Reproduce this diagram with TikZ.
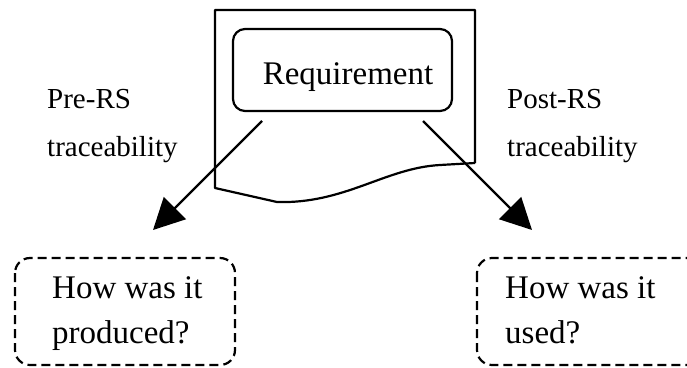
\documentclass[tikz,border=0pt]{standalone}
\usepackage{fontspec}
\setmainfont{Liberation Serif}
\usetikzlibrary{arrows.meta}
\begin{document}
\begin{tikzpicture}[x=1pt,y=-1pt,
  line/.style={line width=2.2pt, line join=round},
  reqbox/.style={draw, line width=2.2pt, rounded corners=12pt, minimum width=219pt, minimum height=82pt, inner sep=0pt},
  askbox/.style={draw, line width=2.2pt, dash pattern=on 9pt off 5pt, rounded corners=15pt},
  asktext/.style={align=left, anchor=north west, inner sep=0pt, font=\fontsize{33}{45}\selectfont},
  lbl/.style={align=left, anchor=north west, inner sep=0pt, font=\fontsize{29}{48}\selectfont},
  flow/.style={line, -{Triangle[length=31pt, width=31pt]}}]
\useasboundingbox (0,0) rectangle (687,367);
\clip (0,0) rectangle (687,367);

% document sheet with a torn lower edge
\draw[line] (475,163) -- (475,10) -- (215,10) -- (215,188) -- (277,202)
  .. controls (345,204) and (385,168) .. (440,165) -- (475,163);

% the requirement itself
\node[reqbox] (req) at (342.5,70) {};
\node[font=\fontsize{33}{38}\selectfont, inner sep=0pt] (reqtxt) at (348,77) {Requirement};

% side labels
\node[lbl] (pre) at (47,89) {Pre-RS\\traceability};
\node[lbl] (post) at (507,89) {Post-RS\\traceability};

% question boxes
\draw[askbox] (15,258) rectangle (235,365);
\node[asktext] (how1) at (52,276) {How was it\\produced?};
\draw[askbox] (477,258) rectangle (720,365);
\node[asktext] (how2) at (505,276) {How was it\\used?};

% trace arrows
\coordinate (ls) at (262,121);
\coordinate (lt) at (153,230);
\coordinate (rs) at (423,121);
\coordinate (rt) at (532,230);
\draw[flow] (ls) -- (lt);
\draw[flow] (rs) -- (rt);
\end{tikzpicture}
\end{document}
